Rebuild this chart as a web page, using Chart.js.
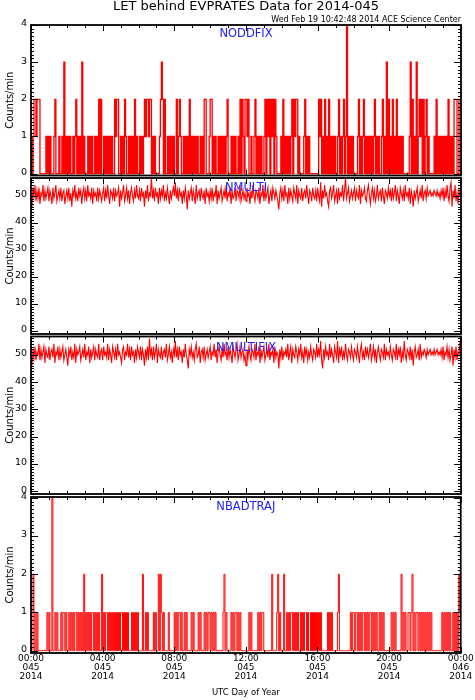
<!DOCTYPE html>
<html><head><meta charset="utf-8">
<script src="https://cdn.jsdelivr.net/npm/chart.js"></script>
<style>
html,body{margin:0;padding:0;background:#fff;}
body{width:475px;height:700px;position:relative;overflow:hidden;}
.p{position:absolute;left:0;width:475px;}
</style></head><body>
<div class="p" style="top:0px;height:186px"><canvas id="c1"></canvas></div>
<div class="p" style="top:168px;height:176px"><canvas id="c2"></canvas></div>
<div class="p" style="top:326px;height:178px"><canvas id="c3"></canvas></div>
<div class="p" style="top:487px;height:213px"><canvas id="c4"></canvas></div>
<script>
const TITLE = 'LET behind EVPRATES Data for 2014-045';
const STAMP = 'Wed Feb 19 10:42:48 2014 ACE Science Center';
const Y_TITLE = 'Counts/min';
const X_TITLE = 'UTC Day of Year';
const panelNames = ['NODDFIX', 'NMULTI', 'NMULTIFIX', 'NBADTRAJ'];
const xTickHours = [0, 4, 8, 12, 16, 20, 24];
const xTickLabels = [
  ['00:00', '045', '2014'], ['04:00', '045', '2014'], ['08:00', '045', '2014'],
  ['12:00', '045', '2014'], ['16:00', '045', '2014'], ['20:00', '045', '2014'],
  ['00:00', '046', '2014']
];
const yTicksSmall = [0, 1, 2, 3, 4];
const yTicksLarge = [0, 10, 20, 30, 40, 50];
const SAMPLE_SECONDS = 200;

const noddfix = [
1,0,1,2,2,1,2,2, 2,0,0,0,0,0,0,1, 0,1,0,1,0,0,0,1, 2,0,0,0,1,0,0,1, 0,3,0,1,
0,1,0,1,0,0,1,0, 1,2,0,1,0,1,0,3, 0,1,0,0,0,1,0,1, 0,1,0,0,1,0,1,0, 2,0,2,0,
0,1,0,1,0,1,0,1, 0,1,0,0,2,1,2,2, 0,0,1,0,1,0,2,1, 0,0,1,0,1,0,1,0, 2,0,1,0,
0,1,0,1,0,1,2,1, 2,2,1,2,2,0,1,0, 1,0,0,0,0,1,2,3, 2,0,2,0,0,1,0,1, 0,1,0,1,
0,0,2,0,1,2,1,0, 0,1,0,1,0,1,0,2, 0,1,0,1,0,1,0,1, 0,0,1,0,1,0,2,2, 0,0,0,1,
2,2,0,1,0,1,0,0, 1,0,1,0,1,0,1,0, 1,2,0,0,0,1,0,1, 0,1,0,0,1,0,2,0, 2,1,0,2,
2,1,2,0,0,1,0,0, 1,2,0,1,0,1,0,1, 0,0,1,2,0,2,1,2, 0,2,1,2,0,2,1,0, 0,0,0,1,
0,2,0,1,0,1,0,1, 0,1,2,0,2,1,2,2, 0,1,0,0,0,0,1,2, 0,1,0,1,0,0,0,0, 0,0,0,0,
0,2,1,2,0,1,0,2, 0,1,0,2,0,1,0,1, 0,1,0,0,1,2,0,1, 0,1,2,0,1,4,0,1, 0,1,0,1,
0,0,0,0,1,2,0,1, 0,1,2,0,1,0,1,0, 1,0,1,0,1,2,0,1, 0,1,0,0,1,2,0,1, 0,3,0,2,
0,1,0,2,0,1,0,2, 0,1,0,1,0,1,0,0, 0,0,0,0,1,3,0,2, 0,1,0,3,0,1,2,1, 2,0,2,0,
1,2,0,1,0,0,0,0, 0,1,0,2,0,1,0,1, 0,1,0,1,0,1,0,2, 0,1,0,1,0,2,2,2, 0,0,2,2
];

const nmulti = [
49,46,53,50,54,48,52,49, 53,47,51,50,54,48,52,49, 51,53,48,52,50,47,53,49, 51,54,48,50,52,49,53,48, 51,52,47,50,
52,49,53,48,51,46,52,50, 54,49,51,48,53,50,52,47, 51,53,49,52,48,54,50,51, 49,53,47,52,50,51,48,53, 49,52,50,48,
51,53,48,52,49,54,50,47, 52,51,49,53,48,52,50,51, 53,46,52,49,51,54,48,50, 53,49,52,47,51,53,50,48, 52,49,54,50,
49,52,48,53,50,51,46,52, 49,54,48,51,50,57,49,52, 48,53,50,51,47,53,49,52, 50,54,48,51,49,53,50,47, 52,49,51,53,
50,55,49,52,48,53,50,51, 47,52,49,53,50,45,52,49, 51,53,48,52,50,47,54,49, 51,52,48,53,50,49,52,47, 53,50,51,48,
52,49,53,48,51,50,54,47, 52,49,51,53,48,50,52,49, 54,48,51,50,53,47,52,49, 50,53,48,52,51,49,54,48, 50,52,49,51,
48,53,50,51,47,52,49,54, 50,48,52,51,49,53,47,51, 50,54,48,52,49,51,53,47, 50,52,48,53,51,49,52,50, 48,45,51,53,
49,52,48,54,50,51,47,53, 49,52,50,48,53,51,49,54, 47,52,50,49,53,48,51,52, 49,54,50,47,52,51,48,53, 50,49,52,48,
53,50,48,55,46,52,49,54, 50,51,48,46,52,53,49,51, 54,48,50,52,47,53,49,51, 50,54,48,52,57,49,51,53, 48,50,52,49,
51,53,48,52,50,49,54,47, 52,50,51,53,49,48,52,54, 50,47,51,53,49,52,48,50, 54,49,51,52,48,53,50,47, 52,51,49,53,
50,52,48,53,49,51,54,48, 52,50,47,53,51,49,52,48, 54,50,51,49,53,47,52,50, 46,52,49,51,53,48,50,52, 49,54,48,51,
52,49,53,50,51,52,50,51, 50,52,51,50,52,50,51,49, 52,50,53,48,52,49,54,50, 48,53,55,46,52,49,54,48, 51,47,52,50
];

const nmultifix = [
50,46,52,49,53,48,51,50, 54,48,52,49,51,53,47,52, 50,49,53,48,51,52,49,54, 47,51,50,53,48,52,49,51, 53,48,50,52,
49,46,52,50,53,48,51,49, 54,47,52,50,51,53,48,50, 52,49,54,48,51,50,53,47, 52,49,51,53,48,52,50,49, 54,48,51,52,
48,53,50,51,49,54,48,52, 50,47,53,51,49,52,48,54, 50,51,49,47,52,53,48,51, 50,54,49,52,48,53,50,51, 47,52,49,53,
51,49,53,48,52,50,46,52, 49,53,48,56,50,52,48,53, 49,51,54,47,52,50,49,53, 48,51,52,49,54,48,50,53, 49,51,47,52,
50,55,49,52,48,53,50,51, 47,52,49,54,50,48,45,52, 50,53,49,51,48,52,54,49, 50,53,47,51,52,49,53,48, 50,52,49,51,
53,48,51,50,54,49,52,47, 51,53,50,48,52,49,54,50, 51,48,53,49,52,50,47,53, 51,49,52,54,48,50,53,49, 51,52,48,50,
46,52,49,53,50,48,52,51, 49,54,48,51,50,53,47,52, 49,51,53,48,50,52,49,54, 48,51,50,52,47,53,49,51, 50,45,52,49,
53,48,51,50,52,49,54,48, 51,53,47,52,50,49,53,51, 48,52,50,54,49,51,47,53, 50,52,48,51,49,53,50,48, 52,51,49,54,
49,52,50,55,48,45,52,49, 53,50,51,48,54,49,52,50, 47,53,51,49,55,47,52,50, 53,48,51,49,54,50,48,52, 51,49,53,50,
48,52,51,49,53,50,47,52, 54,49,51,48,53,50,52,49, 51,54,48,50,53,49,52,47, 51,53,50,48,52,51,49,54, 48,52,50,51,
49,53,50,48,52,51,49,54, 48,52,50,53,47,51,49,55, 50,48,52,51,49,53,48,52, 46,51,53,49,50,52,48,54, 49,51,50,52,
51,49,52,50,51,52,50,51, 50,52,50,51,52,50,51,50, 52,49,53,48,51,50,53,49, 52,48,50,53,46,52,49,53, 48,51,50,55
];

const nbadtraj = [
0,1,2,0,1,0,1,0, 0,0,0,0,0,0,0,0, 1,0,1,0,0,4,0,0, 1,0,1,0,0,0,1,0, 1,1,0,1,
0,0,1,0,1,0,1,0, 1,1,0,1,0,1,0,1, 0,2,0,1,0,1,0,1, 0,1,1,0,1,0,1,0, 1,0,0,2,
0,1,0,1,1,0,1,0, 1,0,1,0,1,0,1,0, 1,0,1,1,0,1,0,1, 0,1,0,0,0,1,0,1, 0,1,0,1,
0,0,0,0,2,0,0,1, 0,1,0,0,0,0,0,1, 0,1,0,0,2,0,2,1, 0,1,0,0,0,0,1,0, 0,0,0,0,
1,0,1,0,1,1,0,1, 0,0,1,0,1,0,0,0, 0,1,0,1,0,0,0,0, 1,0,1,0,0,0,1,0, 1,0,1,1,
0,1,0,1,0,1,0,0, 0,0,0,0,0,1,2,0, 1,0,0,0,0,1,0,1, 0,1,1,0,1,0,1,0, 0,0,0,0,
0,0,0,1,0,1,0,0, 0,0,0,0,1,0,1,0, 1,1,0,0,0,0,0,0, 0,0,2,0,0,0,0,1, 2,0,1,0,
0,0,2,0,0,1,0,1, 0,1,1,0,1,0,1,0, 1,0,0,1,0,1,0,1, 1,0,1,0,0,1,0,1, 0,1,0,1,
0,1,0,1,0,0,0,0, 0,0,1,0,1,0,1,0, 0,0,0,0,1,2,0,0, 0,0,0,0,0,0,0,0, 0,1,0,1,
1,0,1,1,0,1,0,1, 0,1,1,0,1,0,1,0, 1,1,0,1,0,1,0,1, 0,0,1,0,1,0,1,0, 0,0,0,0,
0,0,1,0,1,0,1,0, 0,0,0,0,2,0,1,0, 1,0,0,1,1,0,1,2, 0,1,0,1,1,0,1,0, 1,0,1,0,
1,0,1,0,1,0,1,0, 0,0,0,0,0,0,0,0, 0,1,0,1,0,1,0,1, 0,1,0,0,1,0,1,0, 1,0,2,1
];

const FONT = 'DejaVu Sans';

const framePlugin = {
  id: 'frame',
  afterDatasetsDraw(chart, args, opts) {
    const ctx = chart.ctx, a = chart.chartArea;
    const xs = chart.scales.x, ys = chart.scales.y;
    ctx.save();
    ctx.strokeStyle = '#000';
    ctx.lineWidth = 1;
    ctx.beginPath();
    for (let h = 0; h <= 24; h++) {
      const px = Math.round(xs.getPixelForValue(h)) + 0.5;
      const len = h % 4 === 0 ? 6 : 3;
      ctx.moveTo(px, a.bottom); ctx.lineTo(px, a.bottom - len);
      ctx.moveTo(px, a.top); ctx.lineTo(px, a.top + len);
    }
    const n0 = Math.ceil(ys.min / opts.minor - 1e-6), n1 = Math.floor(ys.max / opts.minor + 1e-6);
    for (let k = n0; k <= n1; k++) {
      const v = k * opts.minor;
      const py = Math.round(ys.getPixelForValue(v)) + 0.5;
      const r = v / opts.major;
      const len = Math.abs(r - Math.round(r)) < 1e-6 ? 7 : 3;
      ctx.moveTo(a.left, py); ctx.lineTo(a.left + len, py);
      ctx.moveTo(a.right, py); ctx.lineTo(a.right - len, py);
    }
    ctx.stroke();
    ctx.lineWidth = 1.8;
    ctx.strokeRect(a.left, a.top, a.right - a.left, a.bottom - a.top);
    ctx.fillStyle = '#2020ff';
    ctx.font = '11.5px "' + FONT + '"';
    ctx.textAlign = 'center';
    ctx.textBaseline = 'middle';
    ctx.fillText(opts.label, (a.left + a.right) / 2, a.top + opts.labelDy);
    ctx.restore();
  }
};

function makeChart(id, values, cfg) {
  const times = values.map((_, i) => i * SAMPLE_SECONDS / 3600);
  const plugins = {
    legend: { display: false },
    tooltip: { enabled: false },
    frame: { label: cfg.label, labelDy: cfg.labelDy, minor: cfg.minor, major: cfg.major }
  };
  if (cfg.withTitle) {
    plugins.title = {
      display: true, text: TITLE, align: 'center', fullSize: false, color: '#000',
      font: { family: FONT, size: 13, weight: 'normal', lineHeight: 1 },
      padding: { top: 0, bottom: 0 }
    };
    plugins.subtitle = {
      display: true, text: STAMP, align: 'end', fullSize: false, color: '#000',
      font: { family: FONT, size: 8, weight: 'normal', lineHeight: 1 },
      padding: { top: 3, bottom: 1 }
    };
  }
  return new Chart(document.getElementById(id), {
    type: 'line',
    data: {
      datasets: [{
        data: values.map((v, i) => ({ x: times[i], y: v })),
        borderColor: '#ff0000',
        borderWidth: cfg.lineWidth,
        pointRadius: 0,
        fill: false,
        tension: 0,
        stepped: cfg.stepped
      }]
    },
    options: {
      animation: false,
      responsive: true,
      maintainAspectRatio: false,
      events: [],
      layout: { padding: { top: cfg.padTop, bottom: cfg.padBottom, left: 0, right: 14 } },
      plugins,
      scales: {
        x: {
          type: 'linear', min: 0, max: 24, display: cfg.showX,
          afterBuildTicks: s => { s.ticks = xTickHours.map(v => ({ value: v })); },
          afterFit: s => { s.height = cfg.showX ? 47 : 0; },
          grid: { display: false, drawTicks: false }, border: { display: false },
          ticks: {
            autoSkip: false, maxRotation: 0, minRotation: 0, color: '#000', padding: 1.3,
            font: { family: FONT, size: 9, lineHeight: 0.98 },
            callback: (v, i) => xTickLabels[i]
          },
          title: {
            display: true, text: X_TITLE, color: '#000',
            font: { family: FONT, size: 8.5, lineHeight: 1.2 },
            padding: { top: 0, bottom: 1.9 }
          }
        },
        y: {
          type: 'linear', min: cfg.yMin, max: cfg.yMax,
          afterBuildTicks: s => { s.ticks = cfg.yTicks.map(v => ({ value: v })); },
          afterFit: s => { s.width = 31; },
          grid: { display: false, drawTicks: false }, border: { display: false },
          ticks: { color: '#000', padding: 4, labelOffset: -1, font: { family: FONT, size: 9.5 } },
          title: {
            display: true, text: Y_TITLE, color: '#000',
            font: { family: FONT, size: 10, lineHeight: 1.2 },
            padding: { top: 4.7, bottom: 0 }
          }
        }
      }
    },
    plugins: [framePlugin]
  });
}

makeChart('c1', noddfix, { label: panelNames[0], labelDy: 9.5, minor: 0.1, major: 1, stepped: true, lineWidth: 1.3,
  yMin: -0.05, yMax: 4, yTicks: yTicksSmall, padTop: 0, padBottom: 10.5, showX: false, withTitle: true });
makeChart('c2', nmulti, { label: panelNames[1], labelDy: 9.7, minor: 1, major: 10, stepped: false, lineWidth: 1.1,
  yMin: -1.1, yMax: 56.6, yTicks: yTicksLarge, padTop: 10, padBottom: 10, showX: false });
makeChart('c3', nmultifix, { label: panelNames[2], labelDy: 11.5, minor: 1, major: 10, stepped: false, lineWidth: 1.1,
  yMin: -1.0, yMax: 56.7, yTicks: yTicksLarge, padTop: 10.5, padBottom: 10, showX: false });
makeChart('c4', nbadtraj, { label: panelNames[3], labelDy: 9.7, minor: 0.1, major: 1, stepped: true, lineWidth: 1,
  yMin: -0.06, yMax: 4.02, yTicks: yTicksSmall, padTop: 10, padBottom: 0, showX: true });
</script>
</body></html>
